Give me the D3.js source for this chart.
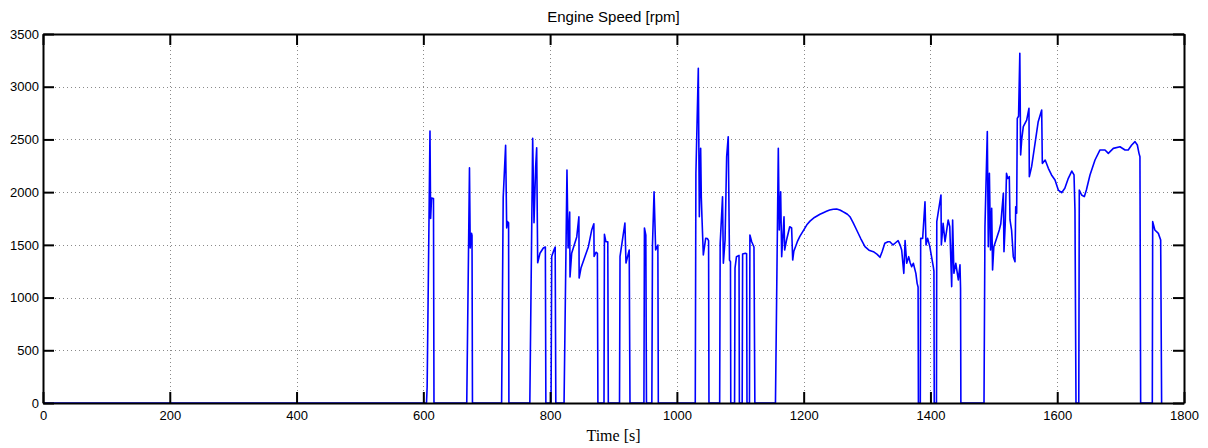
<!DOCTYPE html>
<html>
<head>
<meta charset="utf-8">
<script src="https://cdn.jsdelivr.net/npm/d3@7"></script>
<style>
  html, body { margin: 0; padding: 0; background: #fff; }
  svg { display: block; }
</style>
</head>
<body>
<svg id="chart" width="1208" height="448"></svg>
<script>
// ---- data ----
const chartTitle = "Engine Speed [rpm]";
const xLabel = "Time [s]";
const xTicks = [0, 200, 400, 600, 800, 1000, 1200, 1400, 1600, 1800];
const yTicks = [0, 500, 1000, 1500, 2000, 2500, 3000, 3500];

const time = [
  0, 605,
  606, 610.5, 611.5, 613, 616, 616.8,
  668.5, 672.8, 674, 676, 676.8, 677.5,
  723.5, 726, 729.8, 731.5, 733, 734.5, 735,
  768, 772.5, 774.6, 777.2, 778.8, 780.4, 784, 789.3, 792.5, 793.3,
  801.5, 802.5, 806, 808, 809,
  822, 826.6, 828.4, 830.9, 831.4, 834, 842, 845.4, 845.8, 848.7, 855, 860.3, 865.6, 869.0, 869.4, 872.4, 874.6, 875.4,
  885, 885.7, 888, 891, 891.8,
  909.5, 910.3, 918, 919.7, 924.8, 926,
  948, 948.8, 951, 952,
  960.5, 961.5, 964, 966.5, 970, 970.7,
  1029, 1030, 1033.8, 1035.4, 1037.5, 1038.5, 1039.6, 1041.7, 1045.4, 1048, 1050, 1050.6,
  1067.5, 1068.3, 1072, 1073.3, 1076, 1078.5, 1081, 1083, 1084.5, 1085,
  1091, 1091.7, 1094, 1098, 1098.6,
  1103, 1103.7, 1108, 1110, 1110.6,
  1114.5, 1115.2, 1118, 1121.6, 1123,
  1155.5, 1160, 1161.5, 1163.7, 1165.3, 1169, 1170, 1173, 1178, 1181, 1182.7, 1184.5, 1190, 1194, 1200, 1205, 1210,
  1217, 1225.7, 1231, 1236, 1241, 1246.7, 1252, 1257, 1261, 1265, 1269, 1273, 1278, 1283.6, 1290, 1296.7, 1303, 1310, 1316, 1320.4, 1324, 1328,
  1333, 1336, 1341, 1345, 1349, 1352, 1354.6, 1358, 1360, 1362.5, 1365.7, 1368, 1370.4, 1373, 1377, 1379, 1380.5, 1381,
  1384, 1384.6, 1387.7, 1391.4, 1393, 1395.5, 1399, 1404.5, 1405.5, 1406,
  1409.5, 1410, 1416.6, 1417.2, 1420, 1423, 1428, 1430.5, 1433.5, 1435, 1437, 1440, 1444, 1446.6, 1447.5, 1448,
  1484.5, 1486, 1489.7, 1491.3, 1493, 1494.8, 1496.6, 1498, 1500, 1504.4, 1508.6, 1511, 1515, 1516, 1518, 1520,
  1522, 1524.4, 1525.5, 1528, 1530.7, 1533.4, 1534.5, 1536, 1537, 1539, 1541, 1542.3, 1544, 1546.5, 1551.8, 1555.4,
  1556, 1559.6, 1565, 1570, 1575.5, 1576.5, 1581, 1586, 1591, 1596.5, 1601.7, 1607, 1612, 1617.5, 1623, 1626.5, 1628, 1629.6,
  1634, 1634.8, 1638.5, 1642.7, 1646, 1651.7, 1659.6, 1667.5, 1675.4, 1680.6, 1688.5, 1699, 1707, 1712, 1717.5, 1722.7,
  1726.4, 1729, 1730.5, 1731.6,
  1750, 1750.6, 1754, 1759.5, 1763.2, 1764.7
];

const rpm = [
  0, 0,
  150, 2580, 1750, 1945, 1940, 0,
  0, 2230, 1470, 1610, 1590, 0,
  0, 1950, 2445, 1660, 1720, 1710, 0,
  0, 2510, 1710, 2240, 2420, 1330, 1420, 1470, 1480, 0,
  0, 1390, 1450, 1480, 0,
  0, 2210, 1470, 1810, 1195, 1420, 1575, 1765, 1185, 1280, 1390, 1480, 1640, 1700, 1390, 1430, 1420, 0,
  0, 1600, 1530, 1530, 0,
  0, 1390, 1707, 1328, 1451, 0,
  0, 1660, 1593, 0,
  0, 1499, 2004, 1451, 1499, 0,
  0, 2178, 3175, 1767, 2416, 1955, 1752, 1404, 1562, 1560, 1540, 0,
  0, 1515, 1957, 1325, 1546, 2336, 2526, 1356, 1340, 0,
  0, 1280, 1388, 1400, 0,
  0, 1413, 1420, 1415, 0,
  0, 1593, 1530, 1480, 0,
  0, 2416, 1641, 2004, 1388, 1767, 1451, 1546, 1672, 1660, 1356, 1440, 1530, 1580, 1640, 1690, 1725,
  1760, 1790, 1805, 1818, 1830, 1838, 1840, 1830, 1818, 1805, 1790, 1767, 1710, 1641, 1560, 1483, 1450, 1435, 1410, 1382, 1440, 1515,
  1530, 1530, 1499, 1520, 1540, 1500, 1451, 1230, 1540, 1325, 1388, 1330, 1293, 1325, 1230, 1135, 1100, 0,
  0, 1562, 1560, 1909, 1499, 1562, 1483, 1293, 1250, 0,
  0, 1720, 1973, 1499, 1704, 1530, 1736, 1672, 1104, 1736, 1230, 1325, 1167, 1310, 1088, 0,
  0, 1672, 2574, 1483, 2178, 1451, 1846, 1262, 1483, 1562, 1641, 1700, 1989, 1435, 1700, 2178,
  2130, 2147, 1736, 1640, 1388, 1340, 1862, 1800, 2700, 2720, 3317, 2352, 2500, 2621, 2684, 2795,
  2147, 2242, 2463, 2668, 2779, 2273, 2305, 2226, 2163, 2115, 2020, 1995, 2036, 2131, 2200, 2163, 1830, 0,
  0, 2020, 1973, 1957, 2020, 2163, 2305, 2400, 2400, 2368, 2415, 2431, 2400, 2400, 2447, 2479,
  2447, 2368, 2336, 0,
  0, 1720, 1641, 1609, 1546, 0
];

// ---- layout ----
const W = 1208, H = 448;
const margin = { top: 34, right: 24, bottom: 45, left: 43 };
const iw = W - margin.left - margin.right;
const ih = H - margin.top - margin.bottom;
const tickLen = 11;

const svg = d3.select("#chart");
const g = svg.append("g").attr("transform", `translate(${margin.left},${margin.top})`);

const x = d3.scaleLinear().domain([0, 1800]).range([0, iw]);
const y = d3.scaleLinear().domain([0, 3500]).range([ih, 0]);

// grid
const gridColor = "#8a8a8a";
g.append("g").selectAll("line.vg")
  .data(xTicks.filter(d => d > 0 && d < 1800))
  .join("line")
  .attr("x1", d => Math.round(x(d)) + 0.5).attr("x2", d => Math.round(x(d)) + 0.5)
  .attr("y1", 0).attr("y2", ih)
  .attr("stroke", gridColor).attr("stroke-width", 1).attr("stroke-dasharray", "1,3");
g.append("g").selectAll("line.hg")
  .data(yTicks.filter(d => d > 0 && d < 3500))
  .join("line")
  .attr("y1", d => Math.round(y(d)) + 0.5).attr("y2", d => Math.round(y(d)) + 0.5)
  .attr("x1", 0).attr("x2", iw)
  .attr("stroke", gridColor).attr("stroke-width", 1).attr("stroke-dasharray", "1,3");

// data line
const pts = time.map((t, i) => [t, rpm[i]]);
const line = d3.line().x(d => x(d[0])).y(d => y(d[1]));
g.append("path")
  .datum(pts)
  .attr("d", line)
  .attr("fill", "none")
  .attr("stroke", "#0000ff")
  .attr("stroke-width", 1.6)
  .attr("stroke-linejoin", "round");

// axes (box with inward ticks on all sides)
const fontFam = "'Liberation Sans', Arial, Helvetica, sans-serif";
const fmt = d3.format("d");
const bottomAxis = d3.axisBottom(x).tickValues(xTicks).tickFormat(fmt).tickSizeInner(-tickLen).tickSizeOuter(0).tickPadding(8);
const topAxis = d3.axisTop(x).tickValues(xTicks).tickSizeInner(-tickLen).tickSizeOuter(0).tickFormat("");
const leftAxis = d3.axisLeft(y).tickValues(yTicks).tickFormat(fmt).tickSizeInner(-tickLen).tickSizeOuter(0).tickPadding(4);
const rightAxis = d3.axisRight(y).tickValues(yTicks).tickSizeInner(-tickLen).tickSizeOuter(0).tickFormat("");

function styleAxis(sel) {
  sel.select(".domain").attr("stroke", "#000").attr("stroke-width", 2);
  sel.selectAll(".tick line").attr("stroke", "#000").attr("stroke-width", 2);
  sel.selectAll(".tick text").attr("fill", "#000").style("font-family", fontFam).style("font-size", "13px");
}
g.append("g").attr("transform", `translate(0,${ih})`).call(bottomAxis).call(styleAxis);
g.append("g").call(topAxis).call(styleAxis);
g.append("g").call(leftAxis).call(styleAxis);
g.append("g").attr("transform", `translate(${iw},0)`).call(rightAxis).call(styleAxis);

// title & x label
svg.append("text")
  .attr("x", margin.left + iw / 2).attr("y", 22)
  .attr("text-anchor", "middle")
  .style("font-family", fontFam).style("font-size", "15px")
  .attr("fill", "#000")
  .text(chartTitle);

svg.append("text")
  .attr("x", margin.left + iw / 2).attr("y", 441)
  .attr("text-anchor", "middle")
  .style("font-family", "'Liberation Serif', 'Times New Roman', serif").style("font-size", "16px")
  .attr("fill", "#000")
  .text(xLabel);
</script>
</body>
</html>
